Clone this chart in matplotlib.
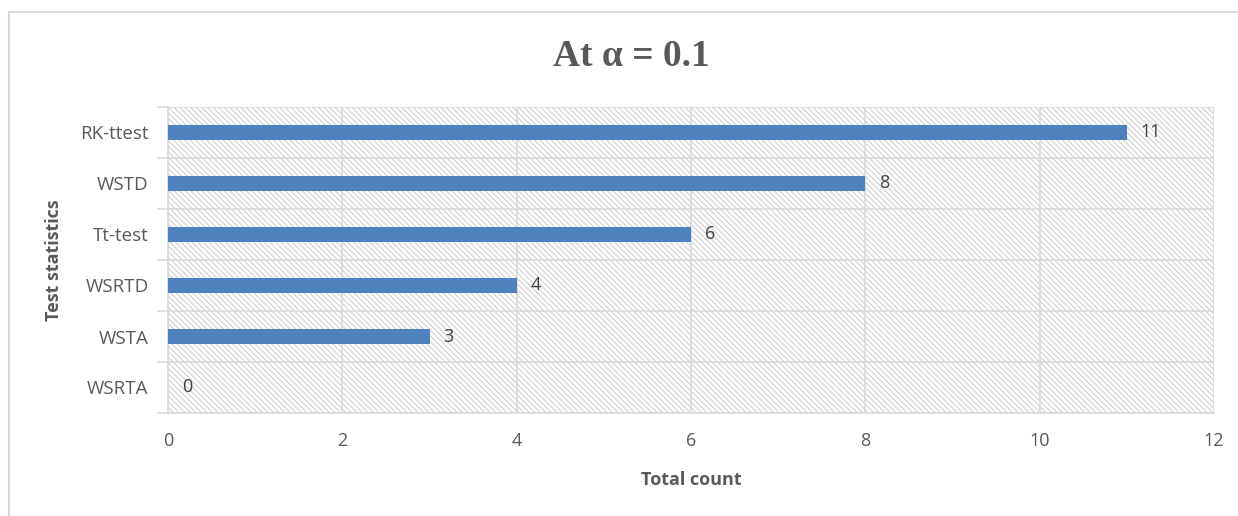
import matplotlib
matplotlib.use("Agg")
import matplotlib.pyplot as plt
from matplotlib.patches import Rectangle
import numpy as np

categories = ["WSRTA", "WSTA", "WSRTD", "Tt-test", "WSTD", "RK-ttest"]
counts = [0, 3, 4, 6, 8, 11]
x_ticks = [0, 2, 4, 6, 8, 10, 12]

title_text = "At \u03b1 = 0.1"
x_label = "Total count"
y_label = "Test statistics"

bar_color = "#4f81bd"
grid_color = "#d9d9d9"
text_color = "#595959"

plt.rcParams["font.family"] = ["Open Sans", "DejaVu Sans"]
plt.rcParams["hatch.color"] = "#d4d4d4"
plt.rcParams["hatch.linewidth"] = 0.9

fig = plt.figure(figsize=(12.38, 5.16), dpi=100)
fig.patch.set_facecolor("white")

# chart frame
fig.add_artist(Rectangle((9 / 1238, -0.05), 1.2, 1 - 12 / 516 + 0.05,
                         transform=fig.transFigure, facecolor="none",
                         edgecolor="#d9d9d9", linewidth=1.5))

ax = fig.add_axes([168 / 1238, 1 - 413 / 516, (1214 - 168) / 1238, (413 - 107) / 516])

y = np.arange(len(categories))

# hatched plot area
ax.add_patch(Rectangle((0, 0), 1, 1, transform=ax.transAxes, facecolor="white",
                       edgecolor="#d4d4d4", linewidth=0, hatch="\\" * 6, zorder=0))

ax.barh(y, counts, height=0.28, color=bar_color, zorder=3)

for yi, v in zip(y, counts):
    ax.annotate(str(v), (v, yi), xytext=(10, 0), textcoords="offset points",
                ha="left", va="center", fontsize=13, color="#404040", zorder=4)

ax.set_xlim(0, 12)
ax.set_ylim(-0.5, len(categories) - 0.5)
ax.set_xticks(x_ticks)
ax.set_yticks(y)
ax.set_yticklabels(categories)
ax.set_yticks(np.arange(-0.5, len(categories)), minor=True)

ax.tick_params(axis="x", length=0, pad=14, labelsize=13, labelcolor=text_color)
ax.tick_params(axis="y", which="major", length=0, pad=14, labelsize=13.5, labelcolor=text_color)
ax.tick_params(axis="y", which="minor", length=8, width=1.2, color=grid_color)

ax.grid(axis="x", which="major", color=grid_color, linewidth=1.2, zorder=1)
ax.grid(axis="y", which="minor", color=grid_color, linewidth=1.2, zorder=1)
ax.set_axisbelow(True)

for side in ["top", "right"]:
    ax.spines[side].set_visible(False)
for side in ["left", "bottom"]:
    ax.spines[side].set_color(grid_color)
    ax.spines[side].set_linewidth(1.2)

ax.set_xlabel(x_label, fontsize=13, fontweight="bold", color=text_color, labelpad=15)
ax.set_ylabel(y_label, fontsize=13, fontweight="bold", color=text_color, labelpad=12)

fig.text(631 / 1238, 1 - 56 / 516, title_text, ha="center", va="center",
         fontsize=27, fontweight="bold", color=text_color,
         family=["Liberation Serif", "DejaVu Serif"])

fig.savefig("out.png", dpi=100)
